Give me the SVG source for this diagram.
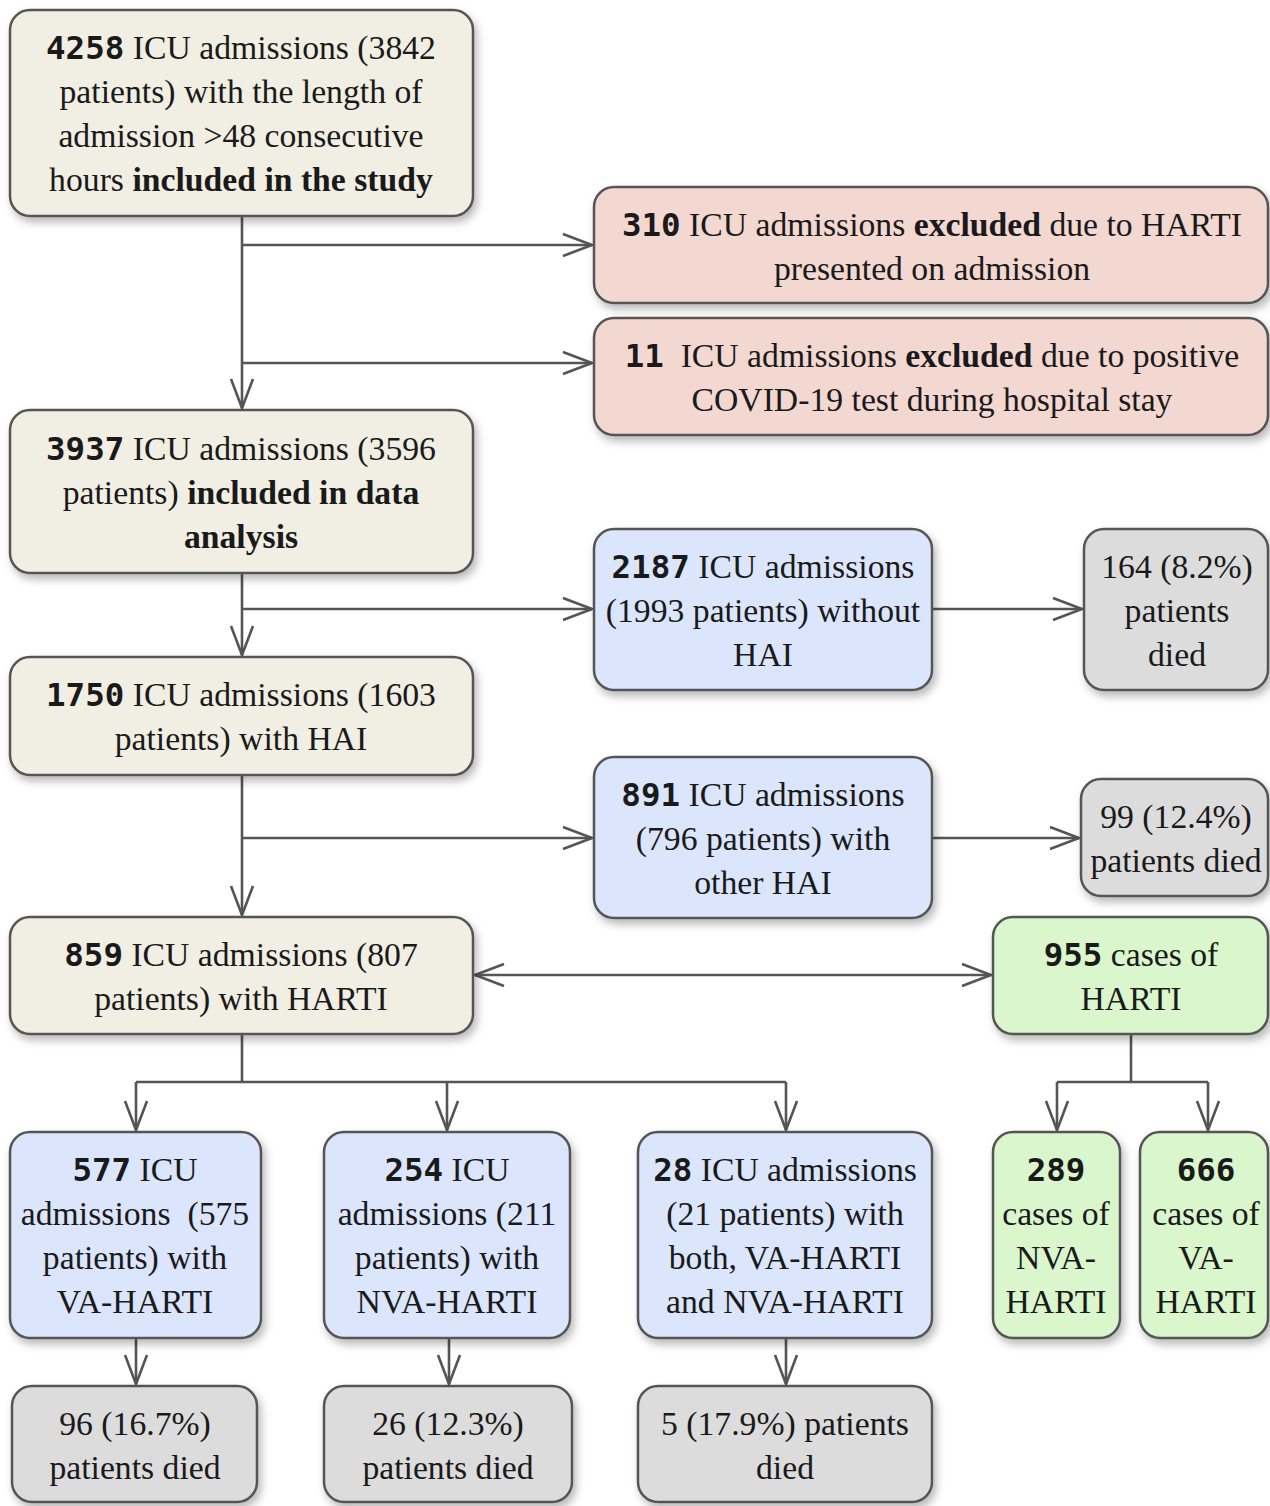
<svg xmlns="http://www.w3.org/2000/svg" width="1270" height="1506" viewBox="0 0 1270 1506">
<defs>
<filter id="sh" x="-10%" y="-10%" width="125%" height="130%">
<feDropShadow dx="3" dy="5" stdDeviation="4" flood-color="#000" flood-opacity="0.28"/>
</filter>
<marker id="ar" markerUnits="userSpaceOnUse" markerWidth="34" markerHeight="26" refX="30" refY="13" orient="auto-start-reverse" viewBox="0 0 34 26">
<path d="M1,2 L30,13 L1,24" fill="none" stroke="#555" stroke-width="2.6"/>
</marker>
<style>
.b{stroke:#555;stroke-width:2.5;filter:url(#sh)}
.beige{fill:#f1efe3}.pink{fill:#f3d7d1}.blue{fill:#dbe6fc}.grey{fill:#dcdcdc}.green{fill:#d9f6cd}
text{font-family:"Liberation Serif","Times New Roman",serif;font-size:33.7px;fill:#1a1a1a;text-anchor:middle}
.n{font-family:"DejaVu Sans Mono",monospace;font-weight:bold;font-size:32.5px}
.bd{font-weight:bold}
.c{fill:none;stroke:#555;stroke-width:2.6}
</style>
</defs>

<g id="connectors">
<path class="c" d="M242,216 V408" marker-end="url(#ar)"/>
<path class="c" d="M242,245 H592" marker-end="url(#ar)"/>
<path class="c" d="M242,363 H592" marker-end="url(#ar)"/>
<path class="c" d="M242,573 V655" marker-end="url(#ar)"/>
<path class="c" d="M242,609 H592" marker-end="url(#ar)"/>
<path class="c" d="M932,609 H1082" marker-end="url(#ar)"/>
<path class="c" d="M242,775 V915" marker-end="url(#ar)"/>
<path class="c" d="M242,838 H592" marker-end="url(#ar)"/>
<path class="c" d="M932,838 H1079" marker-end="url(#ar)"/>
<path class="c" d="M475,975 H991" marker-start="url(#ar)" marker-end="url(#ar)"/>
<path class="c" d="M242,1034 V1082"/>
<path class="c" d="M136,1082 H786"/>
<path class="c" d="M136,1082 V1130" marker-end="url(#ar)"/>
<path class="c" d="M447,1082 V1130" marker-end="url(#ar)"/>
<path class="c" d="M786,1082 V1130" marker-end="url(#ar)"/>
<path class="c" d="M1131,1034 V1082 M1057,1082 H1208"/>
<path class="c" d="M1057,1082 V1130" marker-end="url(#ar)"/>
<path class="c" d="M1208,1082 V1130" marker-end="url(#ar)"/>
<path class="c" d="M136,1338 V1384" marker-end="url(#ar)"/>
<path class="c" d="M449,1338 V1384" marker-end="url(#ar)"/>
<path class="c" d="M786,1338 V1384" marker-end="url(#ar)"/>
</g>

<g id="n4258">
<rect class="b beige" x="10" y="10" width="463" height="206" rx="20"/>
<text x="241" y="59"><tspan class="n">4258</tspan> ICU admissions (3842</text>
<text x="241" y="103">patients) with the length of</text>
<text x="241" y="147">admission &gt;48 consecutive</text>
<text x="241" y="191">hours <tspan class="bd">included in the study</tspan></text>
</g>

<g id="n310">
<rect class="b pink" x="594" y="187" width="674" height="116" rx="20"/>
<text x="932" y="236"><tspan class="n">310</tspan> ICU admissions <tspan class="bd">excluded</tspan> due to HARTI</text>
<text x="932" y="280">presented on admission</text>
</g>

<g id="n11">
<rect class="b pink" x="594" y="318" width="674" height="117" rx="20"/>
<text x="932" y="367" xml:space="preserve"><tspan class="n">11</tspan>  ICU admissions <tspan class="bd">excluded</tspan> due to positive</text>
<text x="932" y="411">COVID-19 test during hospital stay</text>
</g>

<g id="n3937">
<rect class="b beige" x="10" y="410" width="463" height="163" rx="20"/>
<text x="241" y="460"><tspan class="n">3937</tspan> ICU admissions (3596</text>
<text x="241" y="504">patients) <tspan class="bd">included in data</tspan></text>
<text x="241" y="548" class="bd">analysis</text>
</g>

<g id="n2187">
<rect class="b blue" x="594" y="529" width="338" height="161" rx="20"/>
<text x="763" y="578"><tspan class="n">2187</tspan> ICU admissions</text>
<text x="763" y="622">(1993 patients) without</text>
<text x="763" y="666">HAI</text>
</g>

<g id="n164">
<rect class="b grey" x="1084" y="529" width="184" height="161" rx="20"/>
<text x="1177" y="578">164 (8.2%)</text>
<text x="1177" y="622">patients</text>
<text x="1177" y="666">died</text>
</g>

<g id="n1750">
<rect class="b beige" x="10" y="657" width="463" height="118" rx="20"/>
<text x="241" y="706"><tspan class="n">1750</tspan> ICU admissions (1603</text>
<text x="241" y="750">patients) with HAI</text>
</g>

<g id="n891">
<rect class="b blue" x="594" y="757" width="338" height="161" rx="20"/>
<text x="763" y="806"><tspan class="n">891</tspan> ICU admissions</text>
<text x="763" y="850">(796 patients) with</text>
<text x="763" y="894">other HAI</text>
</g>

<g id="n99">
<rect class="b grey" x="1081" y="779" width="187" height="117" rx="20"/>
<text x="1176" y="828">99 (12.4%)</text>
<text x="1176" y="872">patients died</text>
</g>

<g id="n859">
<rect class="b beige" x="10" y="917" width="463" height="117" rx="20"/>
<text x="241" y="966"><tspan class="n">859</tspan> ICU admissions (807</text>
<text x="241" y="1010">patients) with HARTI</text>
</g>

<g id="n955">
<rect class="b green" x="993" y="917" width="275" height="117" rx="20"/>
<text x="1131" y="966"><tspan class="n">955</tspan> cases of</text>
<text x="1131" y="1010">HARTI</text>
</g>

<g id="n577">
<rect class="b blue" x="10" y="1132" width="251" height="206" rx="20"/>
<text x="135" y="1181"><tspan class="n">577</tspan> ICU</text>
<text x="135" y="1225" xml:space="preserve">admissions  (575</text>
<text x="135" y="1269">patients) with</text>
<text x="135" y="1313">VA-HARTI</text>
</g>

<g id="n254">
<rect class="b blue" x="324" y="1132" width="246" height="206" rx="20"/>
<text x="447" y="1181"><tspan class="n">254</tspan> ICU</text>
<text x="447" y="1225">admissions (211</text>
<text x="447" y="1269">patients) with</text>
<text x="447" y="1313">NVA-HARTI</text>
</g>

<g id="n28">
<rect class="b blue" x="638" y="1132" width="294" height="206" rx="20"/>
<text x="785" y="1181"><tspan class="n">28</tspan> ICU admissions</text>
<text x="785" y="1225">(21 patients) with</text>
<text x="785" y="1269">both, VA-HARTI</text>
<text x="785" y="1313">and NVA-HARTI</text>
</g>

<g id="n289">
<rect class="b green" x="993" y="1132" width="127" height="206" rx="20"/>
<text x="1056" y="1181" class="n">289</text>
<text x="1056" y="1225">cases of</text>
<text x="1056" y="1269">NVA-</text>
<text x="1056" y="1313">HARTI</text>
</g>

<g id="n666">
<rect class="b green" x="1140" y="1132" width="128" height="206" rx="20"/>
<text x="1206" y="1181" class="n">666</text>
<text x="1206" y="1225">cases of</text>
<text x="1206" y="1269">VA-</text>
<text x="1206" y="1313">HARTI</text>
</g>

<g id="n96">
<rect class="b grey" x="12" y="1386" width="245" height="116" rx="20"/>
<text x="135" y="1435">96 (16.7%)</text>
<text x="135" y="1479">patients died</text>
</g>

<g id="n26">
<rect class="b grey" x="324" y="1386" width="248" height="116" rx="20"/>
<text x="448" y="1435">26 (12.3%)</text>
<text x="448" y="1479">patients died</text>
</g>

<g id="n5">
<rect class="b grey" x="638" y="1386" width="294" height="116" rx="20"/>
<text x="785" y="1435">5 (17.9%) patients</text>
<text x="785" y="1479">died</text>
</g>
</svg>
